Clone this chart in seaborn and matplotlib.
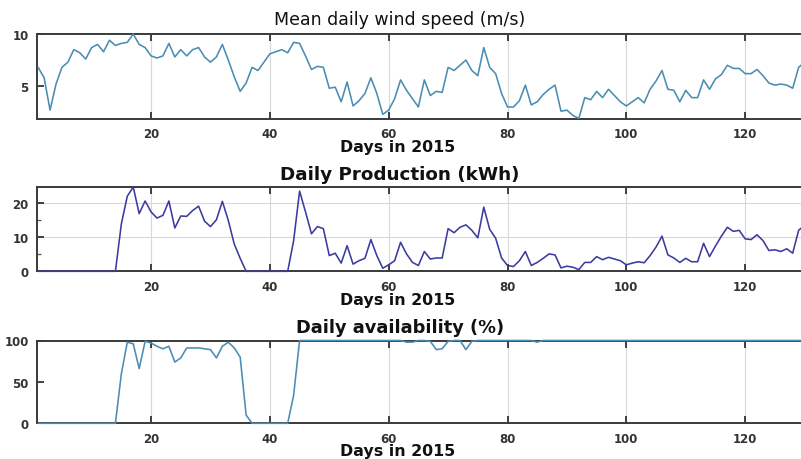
import numpy as np
import pandas as pd
import matplotlib
matplotlib.use("Agg")
import matplotlib.pyplot as plt
import seaborn as sns

days = list(range(1, 131))

wind_speed = [
    6.8, 5.8, 2.7, 5.2, 6.8, 7.3, 8.5, 8.2, 7.6, 8.7,
    9.0, 8.3, 9.4, 8.9, 9.1, 9.2, 10.0, 9.0, 8.7, 7.9,
    7.7, 7.9, 9.1, 7.8, 8.5, 7.9, 8.5, 8.7, 7.8, 7.3,
    7.8, 9.0, 7.5, 5.9, 4.5, 5.3, 6.8, 6.5, 7.3, 8.1,
    8.3, 8.5, 8.2, 9.2, 9.1, 7.9, 6.6, 6.9, 6.8, 4.8,
    4.9, 3.5, 5.4, 3.1, 3.6, 4.3, 5.8, 4.3, 2.3, 2.7,
    3.8, 5.6, 4.6, 3.8, 3.0, 5.6, 4.1, 4.5, 4.4, 6.8,
    6.5, 7.0, 7.5, 6.5, 6.0, 8.7, 6.8, 6.2, 4.3, 3.0,
    3.0, 3.6, 5.1, 3.2, 3.5, 4.2, 4.7, 5.1, 2.6, 2.7,
    2.2, 1.9, 3.9, 3.7, 4.5, 3.9, 4.7, 4.1, 3.5, 3.1,
    3.5, 3.9, 3.4, 4.7, 5.5, 6.5, 4.7, 4.6, 3.5, 4.6,
    3.9, 3.9, 5.6, 4.7, 5.7, 6.1, 7.0, 6.7, 6.7, 6.2,
    6.2, 6.6, 6.0, 5.3, 5.1, 5.2, 5.1, 4.8, 6.8, 7.3,
]

production = [
    0, 0, 0, 0, 0, 0, 0, 0, 0, 0,
    0, 0, 0, 0, 13.9, 22.0, 24.7, 16.9, 20.6, 17.4,
    15.6, 16.4, 20.6, 12.7, 16.2, 16.1, 17.8, 19.1, 14.7, 13.1,
    15.1, 20.5, 14.9, 8.0, 3.8, 0, 0, 0, 0, 0,
    0, 0, 0, 9.0, 23.5, 17.4, 11.0, 13.1, 12.5, 4.6,
    5.3, 2.4, 7.5, 2.1, 3.1, 3.8, 9.3, 4.6, 0.9, 1.9,
    3.1, 8.5, 5.1, 2.6, 1.7, 5.8, 3.6, 3.9, 3.9, 12.5,
    11.3, 12.9, 13.6, 12.0, 9.8, 18.8, 12.3, 9.7, 3.9, 1.7,
    1.4, 3.1, 5.8, 1.7, 2.6, 3.8, 5.1, 4.8, 1.0, 1.5,
    1.2, 0.5, 2.6, 2.6, 4.3, 3.4, 4.1, 3.6, 3.1, 1.9,
    2.4, 2.8, 2.5, 4.6, 7.1, 10.3, 4.8, 3.9, 2.6, 3.8,
    2.8, 2.8, 8.2, 4.3, 7.4, 10.3, 12.9, 11.7, 12.0, 9.5,
    9.3, 10.7, 9.0, 6.1, 6.3, 5.8, 6.6, 5.3, 12.0, 13.5,
]

availability = [
    0, 0, 0, 0, 0, 0, 0, 0, 0, 0,
    0, 0, 0, 0, 60, 98, 96, 66, 99, 97,
    93, 90, 93, 74, 79, 91, 91, 91, 90, 89,
    79, 93, 98, 91, 80, 10, 0, 0, 0, 0,
    0, 0, 0, 34, 100, 100, 100, 100, 100, 100,
    100, 100, 100, 100, 100, 100, 100, 100, 100, 100,
    100, 100, 98, 98, 100, 100, 99, 89, 90, 99,
    100, 100, 89, 99, 100, 100, 100, 100, 100, 100,
    100, 100, 100, 100, 98, 100, 100, 100, 100, 100,
    100, 100, 100, 100, 100, 100, 100, 100, 100, 100,
    100, 100, 100, 100, 100, 100, 100, 100, 100, 100,
    100, 100, 100, 100, 100, 100, 100, 100, 100, 100,
    100, 100, 100, 100, 100, 100, 100, 100, 100, 100,
]

x_ticks = [20, 40, 60, 80, 100, 120]

df = pd.DataFrame({
    "day": days,
    "wind": wind_speed,
    "prod": production,
    "avail": availability,
})

sns.set_theme(style="white")
plt.rcParams["font.family"] = ["DejaVu Sans"]

W, H = 801, 460
fig = plt.figure(figsize=(W / 100, H / 100), dpi=100)


def panel(top, bottom):
    return fig.add_axes([37 / W, 1 - bottom / H, 1 - 37 / W, (bottom - top) / H])


spine_col = "#3a3a3a"
tick_col = "#333333"
grid_col = "#d8d8d8"

specs = [
    # column, top, bottom, ylim, yticks, minor, colour, hgrid
    ("wind", 35, 120, (1.85, 10.0), [5, 10], [], "#4a8db3", False),
    ("prod", 188, 272.3, (0, 24.7), [0, 10, 20], [5, 15], "#3b3ba0", True),
    ("avail", 341.5, 424.3, (0, 100), [0, 50, 100], [], "#4a8db3", False),
]

axes = []
for col, top, bottom, ylim, yt, ymin, colour, hgrid in specs:
    ax = panel(top, bottom)
    sns.lineplot(data=df, x="day", y=col, ax=ax, color=colour, linewidth=1.15,
                 zorder=3, clip_on=False)
    ax.set_xlim(0.8, 129.4)
    ax.set_ylim(*ylim)
    ax.set_xticks(x_ticks)
    ax.set_yticks(yt)
    if ymin:
        ax.set_yticks(ymin, minor=True)
    ax.set_xlabel("")
    ax.set_ylabel("")
    for s in ("left", "top", "bottom"):
        ax.spines[s].set_color(spine_col)
        ax.spines[s].set_linewidth(1.4)
    ax.spines["right"].set_visible(False)
    ax.tick_params(axis="x", which="major", direction="in", length=5, width=1.2,
                   color="#222222", top=True, bottom=True, pad=6,
                   labelsize=8.5, labelcolor=tick_col)
    ax.tick_params(axis="y", which="major", direction="in", length=5, width=1.2,
                   color="#222222", left=True, right=False, pad=6,
                   labelsize=8.5, labelcolor=tick_col)
    ax.tick_params(axis="y", which="minor", direction="in", length=3, width=0.9,
                   color="#555555", left=True)
    for lab in ax.get_xticklabels() + ax.get_yticklabels():
        lab.set_fontweight("bold")
    ax.grid(True, axis="x", color=grid_col, linewidth=0.8)
    if hgrid:
        ax.grid(True, axis="y", which="major", color=grid_col, linewidth=0.8)
    else:
        ax.grid(False, axis="y")
    ax.set_axisbelow(True)
    axes.append(ax)

cx = 400 / W
fig.text(cx, 1 - 20 / H, "Mean daily wind speed (m/s)", ha="center", va="center",
         fontsize=12.5, color="#111111")
fig.text(cx, 1 - 175 / H, "Daily Production (kWh)", ha="center", va="center",
         fontsize=13.2, fontweight="bold", color="#111111")
fig.text(cx, 1 - 328 / H, "Daily availability (%)", ha="center", va="center",
         fontsize=12.8, fontweight="bold", color="#111111")
for yy in (148, 300, 452):
    fig.text(398 / W, 1 - yy / H, "Days in 2015", ha="center", va="center",
             fontsize=11.4, fontweight="bold", color="#111111")

fig.savefig("out.png", dpi=100)
